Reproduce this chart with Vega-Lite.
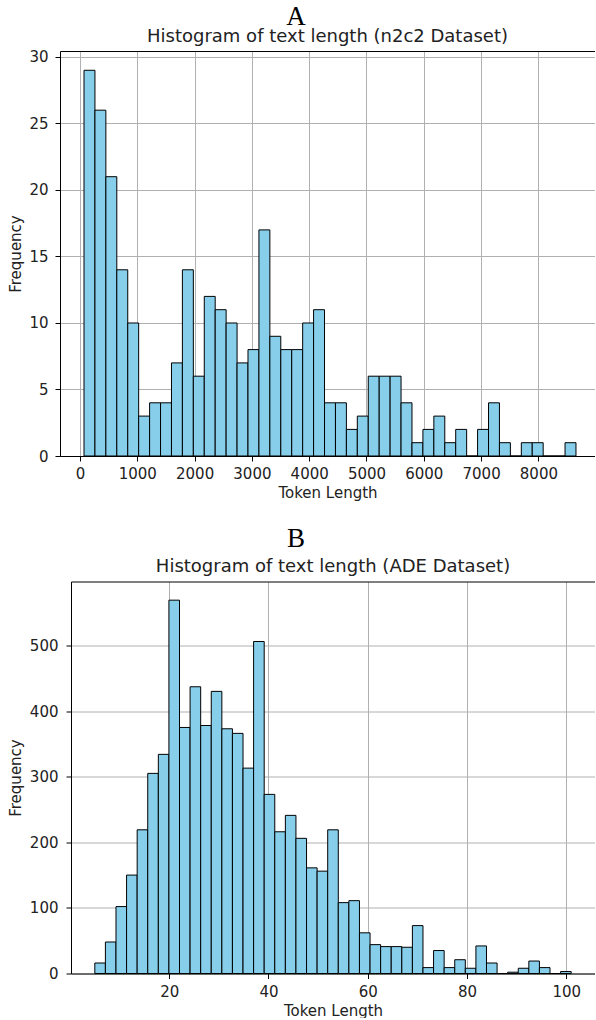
{
  "$schema": "https://vega.github.io/schema/vega-lite/v6.json",
  "padding": {"left": 7, "top": 3, "right": 0, "bottom": 0},
  "spacing": 23.5,
  "datasets": {
    "n2c2": [
      {"start": 70, "end": 260.8, "count": 29},
      {"start": 260.8, "end": 451.6, "count": 26},
      {"start": 451.6, "end": 642.4, "count": 21},
      {"start": 642.4, "end": 833.2, "count": 14},
      {"start": 833.2, "end": 1024, "count": 10},
      {"start": 1024, "end": 1214.8, "count": 3},
      {"start": 1214.8, "end": 1405.6, "count": 4},
      {"start": 1405.6, "end": 1596.4, "count": 4},
      {"start": 1596.4, "end": 1787.2, "count": 7},
      {"start": 1787.2, "end": 1978, "count": 14},
      {"start": 1978, "end": 2168.8, "count": 6},
      {"start": 2168.8, "end": 2359.6, "count": 12},
      {"start": 2359.6, "end": 2550.4, "count": 11},
      {"start": 2550.4, "end": 2741.2, "count": 10},
      {"start": 2741.2, "end": 2932, "count": 7},
      {"start": 2932, "end": 3122.8, "count": 8},
      {"start": 3122.8, "end": 3313.6, "count": 17},
      {"start": 3313.6, "end": 3504.4, "count": 9},
      {"start": 3504.4, "end": 3695.2, "count": 8},
      {"start": 3695.2, "end": 3886, "count": 8},
      {"start": 3886, "end": 4076.8, "count": 10},
      {"start": 4076.8, "end": 4267.6, "count": 11},
      {"start": 4267.6, "end": 4458.4, "count": 4},
      {"start": 4458.4, "end": 4649.2, "count": 4},
      {"start": 4649.2, "end": 4840, "count": 2},
      {"start": 4840, "end": 5030.8, "count": 3},
      {"start": 5030.8, "end": 5221.6, "count": 6},
      {"start": 5221.6, "end": 5412.4, "count": 6},
      {"start": 5412.4, "end": 5603.2, "count": 6},
      {"start": 5603.2, "end": 5794, "count": 4},
      {"start": 5794, "end": 5984.8, "count": 1},
      {"start": 5984.8, "end": 6175.6, "count": 2},
      {"start": 6175.6, "end": 6366.4, "count": 3},
      {"start": 6366.4, "end": 6557.2, "count": 1},
      {"start": 6557.2, "end": 6748, "count": 2},
      {"start": 6748, "end": 6938.8, "count": 0},
      {"start": 6938.8, "end": 7129.6, "count": 2},
      {"start": 7129.6, "end": 7320.4, "count": 4},
      {"start": 7320.4, "end": 7511.2, "count": 1},
      {"start": 7511.2, "end": 7702, "count": 0},
      {"start": 7702, "end": 7892.8, "count": 1},
      {"start": 7892.8, "end": 8083.6, "count": 1},
      {"start": 8083.6, "end": 8274.4, "count": 0},
      {"start": 8274.4, "end": 8465.2, "count": 0},
      {"start": 8465.2, "end": 8656, "count": 1}
    ],
    "ade": [
      {"start": 5, "end": 7.133, "count": 16},
      {"start": 7.133, "end": 9.267, "count": 48},
      {"start": 9.267, "end": 11.4, "count": 102},
      {"start": 11.4, "end": 13.533, "count": 150},
      {"start": 13.533, "end": 15.667, "count": 219},
      {"start": 15.667, "end": 17.8, "count": 305},
      {"start": 17.8, "end": 19.933, "count": 334},
      {"start": 19.933, "end": 22.067, "count": 569},
      {"start": 22.067, "end": 24.2, "count": 375},
      {"start": 24.2, "end": 26.333, "count": 437},
      {"start": 26.333, "end": 28.467, "count": 378},
      {"start": 28.467, "end": 30.6, "count": 430},
      {"start": 30.6, "end": 32.733, "count": 373},
      {"start": 32.733, "end": 34.867, "count": 366},
      {"start": 34.867, "end": 37, "count": 313},
      {"start": 37, "end": 39.133, "count": 506},
      {"start": 39.133, "end": 41.267, "count": 273},
      {"start": 41.267, "end": 43.4, "count": 216},
      {"start": 43.4, "end": 45.533, "count": 241},
      {"start": 45.533, "end": 47.667, "count": 206},
      {"start": 47.667, "end": 49.8, "count": 161},
      {"start": 49.8, "end": 51.933, "count": 156},
      {"start": 51.933, "end": 54.067, "count": 219},
      {"start": 54.067, "end": 56.2, "count": 108},
      {"start": 56.2, "end": 58.333, "count": 111},
      {"start": 58.333, "end": 60.467, "count": 62},
      {"start": 60.467, "end": 62.6, "count": 44},
      {"start": 62.6, "end": 64.733, "count": 41},
      {"start": 64.733, "end": 66.867, "count": 41},
      {"start": 66.867, "end": 69, "count": 40},
      {"start": 69, "end": 71.133, "count": 73},
      {"start": 71.133, "end": 73.267, "count": 9},
      {"start": 73.267, "end": 75.4, "count": 35},
      {"start": 75.4, "end": 77.533, "count": 9},
      {"start": 77.533, "end": 79.667, "count": 21},
      {"start": 79.667, "end": 81.8, "count": 8},
      {"start": 81.8, "end": 83.933, "count": 42},
      {"start": 83.933, "end": 86.067, "count": 16},
      {"start": 86.067, "end": 88.2, "count": 0},
      {"start": 88.2, "end": 90.333, "count": 2},
      {"start": 90.333, "end": 92.467, "count": 8},
      {"start": 92.467, "end": 94.6, "count": 19},
      {"start": 94.6, "end": 96.733, "count": 9},
      {"start": 96.733, "end": 98.867, "count": 0},
      {"start": 98.867, "end": 101, "count": 3}
    ],
    "blank": []
  },
  "config": {
    "font": "DejaVu Sans",
    "view": {"stroke": null},
    "axis": {
      "domain": true,
      "domainColor": "black",
      "domainWidth": 1,
      "gridColor": "#b0b0b0",
      "gridWidth": 1,
      "gridOpacity": 1,
      "tickColor": "black",
      "tickSize": 5,
      "tickWidth": 1,
      "labelFont": "DejaVu Sans",
      "labelFontSize": 15,
      "labelColor": "#222222",
      "labelPadding": 5.5,
      "labelOverlap": false,
      "labelFlush": false,
      "titleFont": "DejaVu Sans",
      "titleFontSize": 15,
      "titleFontWeight": "normal",
      "titleColor": "#222222"
    }
  },
  "vconcat": [
    {
      "title": {"text": "A", "font": "Liberation Serif", "fontSize": 27, "fontWeight": "normal", "color": "black", "anchor": "middle", "frame": "bounds", "dx": -5, "offset": -3},
      "spacing": 0,
      "hconcat": [
        {"width": 1, "height": 1, "data": {"name": "blank"}, "mark": {"type": "point", "opacity": 0}, "encoding": {}},
        {
          "title": {"text": "Histogram of text length (n2c2 Dataset)", "font": "DejaVu Sans", "fontSize": 18, "fontWeight": "normal", "color": "#222222", "anchor": "middle", "frame": "group", "offset": 3.5},
          "width": 535,
          "height": 405,
          "data": {"name": "n2c2"},
          "layer": [
            {
              "mark": {"type": "bar", "fill": "#87CEEB", "stroke": "black", "strokeWidth": 1},
              "encoding": {
                "x": {"field": "start", "type": "quantitative", "scale": {"domain": [-349, 8988], "nice": false, "zero": false},
                      "axis": {"values": [0, 1000, 2000, 3000, 4000, 5000, 6000, 7000, 8000], "format": "d", "title": "Token Length", "grid": true, "titlePadding": 4}},
                "x2": {"field": "end"},
                "y": {"field": "count", "type": "quantitative", "scale": {"domain": [0, 30.45], "nice": false},
                      "axis": {"values": [0, 5, 10, 15, 20, 25, 30], "title": "Frequency", "grid": true, "labelPadding": 7, "minExtent": 31, "maxExtent": 31, "titlePadding": 6}},
                "y2": {"datum": 0}
              }
            },
            {
              "mark": {"type": "bar", "opacity": 0},
              "encoding": {
                "x": {"field": "start", "type": "quantitative", "axis": {"orient": "top", "labels": false, "ticks": false, "grid": false, "title": null}},
                "x2": {"field": "end"},
                "y": {"field": "count", "type": "quantitative", "axis": null},
                "y2": {"datum": 0}
              }
            }
          ],
          "resolve": {"axis": {"x": "independent", "y": "independent"}}
        }
      ]
    },
    {
      "title": {"text": "B", "font": "Liberation Serif", "fontSize": 27, "fontWeight": "normal", "color": "black", "anchor": "middle", "frame": "bounds", "dx": -5, "offset": 5},
      "spacing": 0,
      "hconcat": [
        {"width": 1, "height": 1, "data": {"name": "blank"}, "mark": {"type": "point", "opacity": 0}, "encoding": {}},
        {
          "title": {"text": "Histogram of text length (ADE Dataset)", "font": "DejaVu Sans", "fontSize": 18, "fontWeight": "normal", "color": "#222222", "anchor": "middle", "frame": "group", "offset": 6},
          "width": 524,
          "height": 392,
          "data": {"name": "ade"},
          "layer": [
            {
              "mark": {"type": "bar", "fill": "#87CEEB", "stroke": "black", "strokeWidth": 1},
              "encoding": {
                "x": {"field": "start", "type": "quantitative", "scale": {"domain": [0.2, 105.8], "nice": false, "zero": false},
                      "axis": {"values": [20, 40, 60, 80, 100], "format": "d", "title": "Token Length", "grid": true, "titlePadding": 4}},
                "x2": {"field": "end"},
                "y": {"field": "count", "type": "quantitative", "scale": {"domain": [0, 597.45], "nice": false},
                      "axis": {"values": [0, 100, 200, 300, 400, 500], "format": "d", "title": "Frequency", "grid": true, "labelPadding": 8, "minExtent": 42, "maxExtent": 42, "titlePadding": 6}},
                "y2": {"datum": 0}
              }
            },
            {
              "mark": {"type": "bar", "opacity": 0},
              "encoding": {
                "x": {"field": "start", "type": "quantitative", "axis": {"orient": "top", "labels": false, "ticks": false, "grid": false, "title": null}},
                "x2": {"field": "end"},
                "y": {"field": "count", "type": "quantitative", "axis": {"orient": "right", "labels": false, "ticks": false, "grid": false, "title": null}},
                "y2": {"datum": 0}
              }
            }
          ],
          "resolve": {"axis": {"x": "independent", "y": "independent"}}
        }
      ]
    }
  ]
}
